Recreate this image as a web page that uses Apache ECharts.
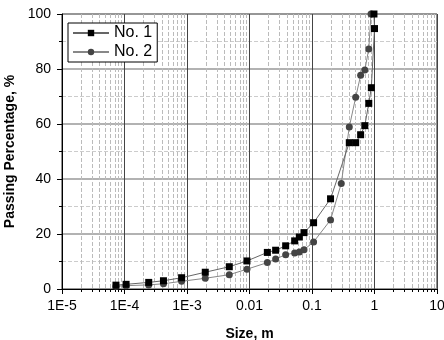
<!DOCTYPE html>
<html>
<head>
<meta charset="utf-8">
<script src="https://cdn.jsdelivr.net/npm/echarts@6/dist/echarts.min.js"></script>
<style>
  html, body { margin: 0; padding: 0; background: #fff; }
  #chart { width: 444px; height: 340px; }
</style>
</head>
<body>
<div id="chart"></div>
<script>
// sieve sizes (m) and passing percentage
var sizeNo1 = [7.3e-5, 1.06e-4, 2.44e-4, 4.2e-4, 8.2e-4, 1.96e-3, 4.75e-3, 9.1e-3, 0.0193, 0.0262, 0.0379, 0.0528, 0.0627, 0.0745, 0.106, 0.198, 0.395, 0.5, 0.6, 0.7, 0.81, 0.89, 1.0, 0.98]
var passNo1 = [1.4, 1.7, 2.4, 3.0, 4.1, 6.1, 8.1, 10.2, 13.3, 14.1, 15.7, 17.5, 18.9, 20.5, 24.1, 32.8, 53.2, 53.2, 56.1, 59.4, 67.5, 73.2, 94.7, 100]
var sizeNo2 = [7.3e-5, 1.06e-4, 2.44e-4, 4.2e-4, 8.2e-4, 1.96e-3, 4.75e-3, 9.1e-3, 0.0193, 0.0262, 0.0379, 0.0528, 0.0627, 0.0745, 0.106, 0.198, 0.294, 0.395, 0.5, 0.6, 0.7, 0.81, 0.88]
var passNo2 = [1.0, 1.2, 1.5, 1.9, 2.8, 3.9, 5.2, 7.2, 9.6, 10.9, 12.5, 13.1, 13.5, 14.3, 17.1, 25.1, 38.4, 58.9, 69.7, 77.7, 79.6, 87.3, 100]
var xTickLabels = ['1E-5', '1E-4', '1E-3', '0.01', '0.1', '1', '10']

function pairs(xs, ys) {
  return xs.map(function(x, i) { return [x, ys[i]] })
}

var chart = echarts.init(document.getElementById('chart'))
var font = 'Liberation Sans, Arial, sans-serif'

chart.setOption({
  animation: false,
  grid: {
    left: 62, right: 7, top: 14, bottom: 51,
    outerBoundsMode: 'none',
    containLabel: false,
    show: true, borderColor: '#222', borderWidth: 1, backgroundColor: 'transparent'
  },
  legend: {
    left: 68, top: 23,
    orient: 'vertical',
    itemGap: 3,
    itemWidth: 36, itemHeight: 8,
    padding: [2, 5, 2, 4],
    borderColor: '#000', borderWidth: 1,
    backgroundColor: '#fff',
    textStyle: { fontFamily: font, fontSize: 16, color: '#000' },
    data: ['No. 1', 'No. 2']
  },
  xAxis: {
    type: 'log',
    logBase: 10,
    min: 1e-5,
    max: 10,
    name: 'Size, m',
    nameLocation: 'middle',
    nameGap: 38,
    nameTextStyle: { fontFamily: font, fontSize: 14, fontWeight: 'bold', color: '#000' },
    axisLine: { show: true, onZero: false, lineStyle: { color: '#000', width: 1 } },
    axisTick: { show: true, inside: false, length: 5, lineStyle: { color: '#000' } },
    minorTick: { show: true, splitNumber: 9, length: 3, lineStyle: { color: '#000' } },
    axisLabel: {
      fontFamily: font, fontSize: 14, color: '#000', margin: 10,
      formatter: function(v) {
        var k = Math.round(Math.log10(v)) + 5
        return xTickLabels[k]
      }
    },
    splitLine: { show: true, lineStyle: { color: '#444', width: 1 } },
    minorSplitLine: { show: true, lineStyle: { color: '#bbb', width: 1, type: 'dashed' } }
  },
  yAxis: {
    type: 'value',
    min: 0, max: 100, interval: 20,
    name: 'Passing Percentage, %',
    nameLocation: 'middle',
    nameGap: 42,
    nameTextStyle: { fontFamily: font, fontSize: 14, fontWeight: 'bold', color: '#000' },
    axisLine: { show: true, lineStyle: { color: '#000', width: 1 } },
    axisTick: { show: true, inside: false, length: 5, lineStyle: { color: '#000' } },
    minorTick: { show: true, splitNumber: 2, length: 3, lineStyle: { color: '#000' } },
    axisLabel: { fontFamily: font, fontSize: 14, color: '#000', margin: 11 },
    splitLine: { show: true, lineStyle: { color: '#999', width: 1.5 } },
    minorSplitLine: { show: true, lineStyle: { color: '#ccc', width: 1, type: 'dashed' } }
  },
  series: [
    {
      name: 'No. 1',
      type: 'line',
      data: pairs(sizeNo1, passNo1),
      symbol: 'rect',
      symbolSize: 7,
      itemStyle: { color: '#000' },
      lineStyle: { color: '#666', width: 1 },
      z: 3
    },
    {
      name: 'No. 2',
      type: 'line',
      data: pairs(sizeNo2, passNo2),
      symbol: 'circle',
      symbolSize: 7,
      itemStyle: { color: '#444' },
      lineStyle: { color: '#888', width: 1 },
      z: 2
    }
  ]
})
</script>
</body>
</html>
